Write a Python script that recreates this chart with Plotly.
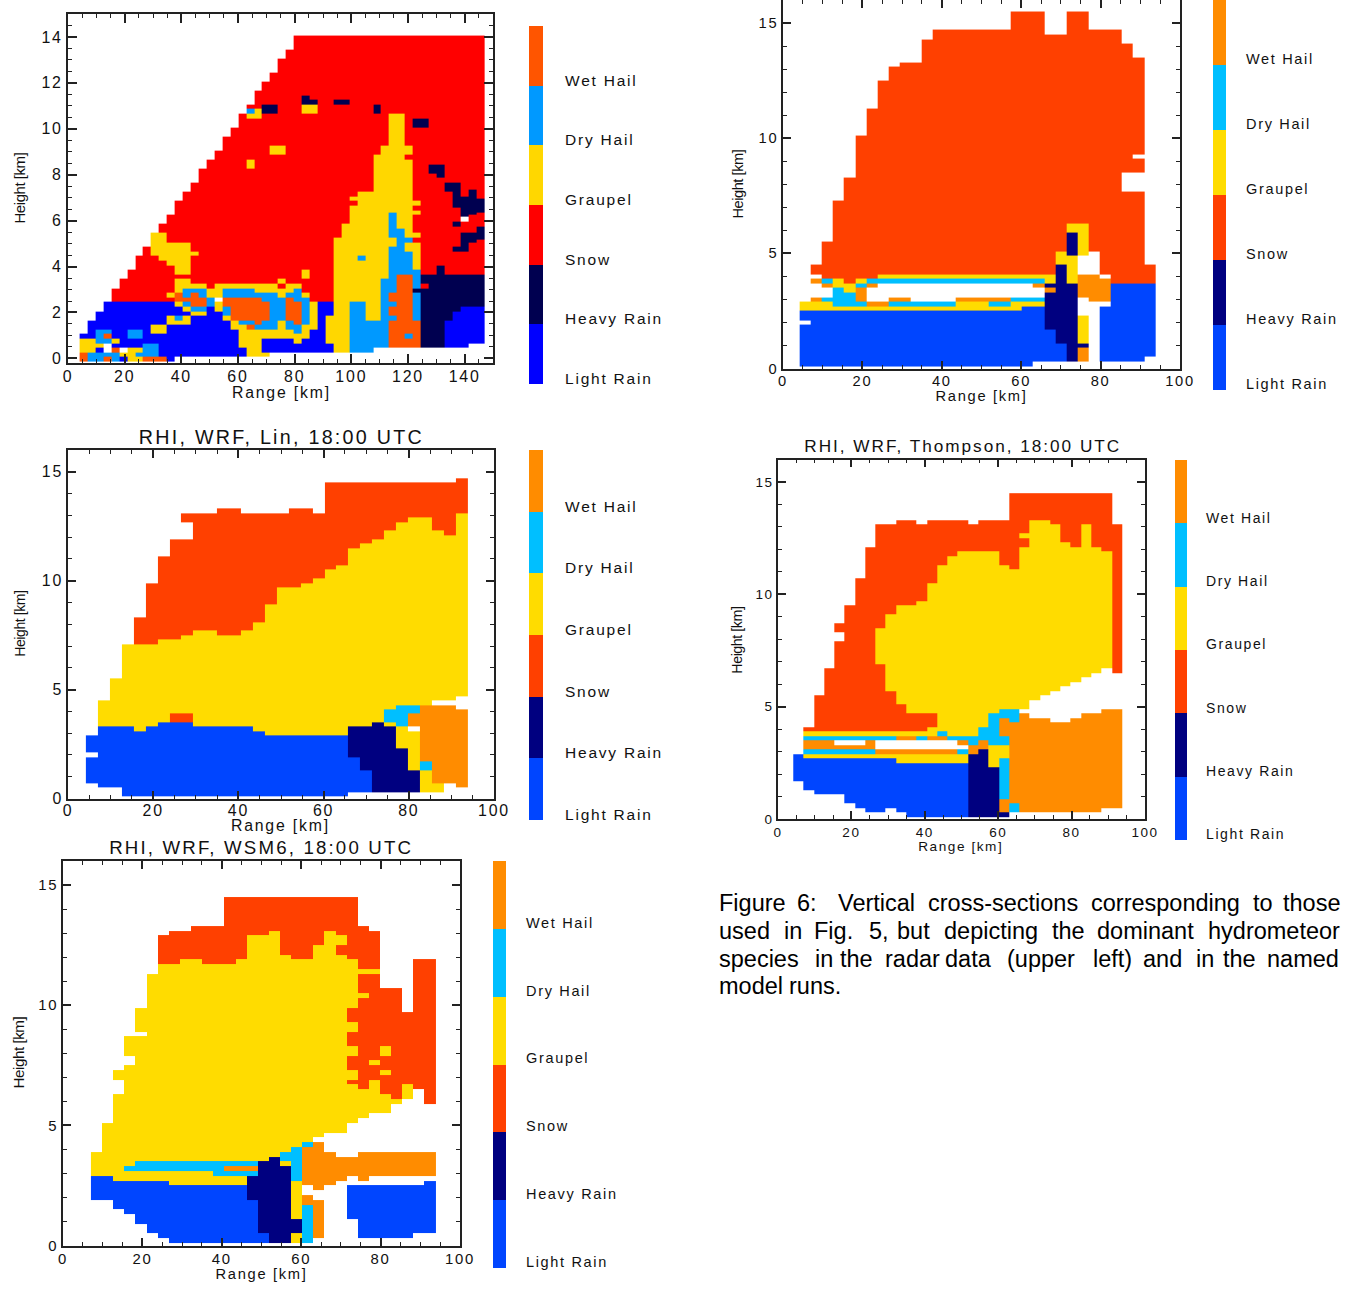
import numpy as np
import plotly.graph_objects as go

W, H = 1347, 1290

# Categories, bottom to top of each legend bar
CATEGORIES = ["Light Rain", "Heavy Rain", "Snow", "Graupel", "Dry Hail", "Wet Hail"]
CAT_CODES = "LHSGDW"
RADAR_COLORS = ["#0000FF", "#000050", "#FF0000", "#FFD700", "#0099FF", "#FF5500"]
MODEL_COLORS = ["#0045FF", "#000080", "#FF4000", "#FFDC00", "#00BFFF", "#FF8C00"]

# Each column: bottom height (km), then <species><top height km>; "_" means no data
RADAR_COLS = [
 "-.14 W.26 G.86 L1.06", "-.14 D.26 G.86 L1.66", "-.14 D.26 L.46 G.66 D1.26 L2.06",
 "-.14 W.06 D.26 _.66 D.86 W1.06 D1.26 L2.46", "-.14 D.26 W.46 L.66 G.86 L2.46 S3.06",
 "-.14 L.06 G.26 _.46 L2.46 S3.46", "-.14 G.46 L.86 D1.26 L2.46 S3.86",
 "-.14 G.06 D.26 G.46 L.86 D1.26 L2.46 S4.46", "-.14 W.06 D.66 L2.46 S4.86",
 "-.14 W.06 D.66 L1.06 G1.46 L2.46 S4.46 G5.46", "-.14 W.06 L1.06 G1.46 L2.46 S4.26 G5.46 S5.86",
 "-.14 L1.46 G1.86 L2.46 S2.66 G2.86 S4.06 G5.06 S6.26",
 ".06 L1.46 G1.66 D1.86 L2.26 G2.46 W2.86 G3.46 S3.66 G5.06 S6.86",
 ".06 L1.46 G1.86 L2.06 G2.26 D2.46 W2.66 D3.06 G3.46 S3.66 G5.06 S7.26",
 ".06 L1.86 G2.06 D2.26 W2.86 D3.06 G3.26 S4.46 G4.66 S7.66",
 ".06 L1.86 G2.06 D2.26 W2.66 D3.06 G3.26 S8.26", ".06 L2.26 D2.66 G3.06 S8.66",
 ".06 L2.06 G2.46 _2.66 G3.26 S9.06", ".06 L1.66 G1.86 D2.26 W2.66 D3.06 G3.26 S9.66",
 ".06 L1.26 G1.66 W2.66 D3.06 G3.26 S10.06", ".06 L.46 G1.46 D1.66 W2.66 D3.06 G3.26 S10.66",
 ".06 G1.26 W1.46 D1.66 W2.66 D3.06 G3.26 S8.26 G8.66 S10.46 G10.66 D10.86 S11.06",
 ".06 G1.26 D1.46 W2.66 D2.86 G3.26 S10.46 G10.86 S11.66",
 ".06 G.26 L.86 G1.26 D1.66 W2.46 D2.86 G3.26 S10.66 H11.06 S12.06",
 ".26 L.86 G1.26 D2.86 G3.26 S8.86 G9.26 S10.66 H11.06 S12.46",
 ".26 L.86 G1.66 D2.66 G3.06 S3.26 G3.46 S8.86 G9.26 S13.06",
 ".26 L.86 G1.26 D1.66 W2.66 D2.86 G3.26 S13.46", ".26 L.66 G1.06 D1.46 W2.46 D3.06 G3.26 S14.06",
 ".26 L.86 G1.46 D2.66 G2.86 S3.46 G3.86 S10.66 G11.06 H11.46 S14.06",
 ".26 L1.26 G2.46 S10.66 G11.06 H11.26 S14.06", ".26 L2.46 S14.06", ".26 L.66 G1.86 L2.46 S14.06",
 ".26 G5.26 S11.06 H11.26 S14.06", ".26 G5.86 S11.06 H11.26 S14.06",
 ".26 D2.46 G6.66 S6.86 G7.06 S14.06", ".26 D2.46 G4.26 D4.46 G7.26 S14.06", ".26 D1.66 G7.26 S14.06",
 ".46 D1.66 G8.86 S10.66 H11.06 S14.06", ".46 D3.46 G9.26 S14.06",
 ".46 W1.66 D1.86 W2.26 D2.46 W2.86 D4.86 G5.26 D6.36 G10.66 S14.06", ".46 W3.66 D5.66 G10.66 S14.06",
 ".46 W.86 D1.06 W3.66 D4.66 G5.06 D5.26 G8.66 S8.86 G9.26 S14.06",
 ".46 W1.66 D2.86 H3.06 D3.86 G5.06 S5.26 G5.46 S6.26 G6.46 S6.66 G6.86 S10.06 H10.46 S14.06",
 ".46 H3.06 S3.26 H3.66 S10.06 H10.46 S14.06", ".46 H3.66 S8.06 H8.46 S14.06",
 ".46 H4.06 S7.86 H8.46 S14.06", ".46 L1.66 H3.66 S7.26 H7.66 S14.06",
 ".46 L2.06 H3.66 S4.66 H4.86 S5.76 H5.96 S6.56 H7.66 S14.06",
 ".46 L2.26 H3.66 S4.66 H5.46 S5.96 _6.16 H7.06 S14.06",
 ".66 L2.26 H3.66 S5.06 H5.46 S6.26 H7.36 S14.06", ".66 L2.26 H3.66 S5.16 H5.76 S6.36 H6.96 S14.06",
]

UPPER_RIGHT_COLS = [
 ".1 L1.9 _2.1 L2.5 G2.9", ".1 L2.5 G2.9 W3.1 _3.7 W3.9 _4.1 S4.5", ".1 L2.5 G2.9 D3.1 _3.5 W3.7 D3.9 S5.5",
 ".1 L2.5 G2.7 D3.5 G3.9 S7.3", ".1 L2.5 G2.7 D3.3 G3.7 S8.3", ".1 L2.5 G2.7 D2.9 W3.5 D3.7 G3.9 S10.1",
 ".1 L2.5 G2.7 W2.9 _3.5 W3.7 D3.9 S11.3", ".1 L2.5 G2.7 W2.9 _3.7 D3.9 G4.1 S12.5",
 ".1 L2.5 G2.7 D2.9 W3.1 _3.7 D3.9 G4.1 S13.1", ".1 L2.5 G2.7 D2.9 W3.1 _3.7 D3.9 G4.1 S13.3",
 ".1 L2.5 G2.7 D2.9 _3.7 D3.9 G4.1 S13.3", ".1 L2.5 G2.7 D2.9 _3.7 D3.9 G4.1 S14.3",
 ".1 L2.5 G2.7 D2.9 _3.7 D3.9 G4.1 S14.7", ".1 L2.5 G2.7 D2.9 _3.7 D3.9 G4.1 S14.7",
 ".1 L2.5 G2.9 W3.1 _3.7 D3.9 G4.1 S14.7", ".1 L2.5 G2.9 W3.1 _3.7 D3.9 G4.1 S14.7",
 ".1 L2.5 G2.9 W3.1 _3.7 D3.9 G4.1 S14.7", ".1 L2.5 G2.7 D2.9 W3.1 _3.7 D3.9 G4.1 S14.7",
 ".1 L2.5 G2.7 D2.9 W3.1 _3.7 D3.9 G4.1 S14.7", ".1 L2.5 G2.9 D3.1 _3.7 D3.9 G4.1 S15.5",
 ".1 L2.7 G2.9 D3.1 _3.7 D3.9 G4.1 S15.5", ".3 L2.7 G2.9 D3.1 _3.5 W3.7 D3.9 G4.1 S15.5",
 ".3 L1.7 H3.3 W3.5 H3.7 G4.1 S14.5", ".3 L1.1 H4.5 G5.1 S14.5", ".3 H3.7 G4.9 H5.9 G6.3 S15.5",
 ".3 W.9 H1.1 G2.3 _3.1 W4.1 _4.9 G6.3 S15.5", "2.9 W4.1 _5.1 S14.7", ".3 L2.7 _2.9 W3.9 _4.1 S14.7",
 ".3 L3.7 S14.7", ".3 L3.7 S7.7 _8.5 S14.1", ".3 L3.7 S7.7 _8.5 S9.1 _9.3 S13.5", ".5 L3.7 S4.5",
]

LIN_COLS = [
 ".7 L1.9 _2.1 L2.9", ".5 L3.3 G4.5", ".5 L3.3 G5.5", ".1 L3.3 G7.1", ".1 L3.1 G7.1 S8.3", ".1 L3.3 G7.1 S9.9",
 ".1 L3.5 G7.3 S11.1", ".1 L3.5 S3.9 G7.3 S11.9", ".1 L3.5 S3.9 G7.5 S11.9 _12.7 S13.1",
 ".1 L3.3 G7.7 S13.1", ".1 L3.3 G7.7 S13.1", ".1 L3.3 G7.5 S13.3", ".1 L3.3 G7.5 S13.3", ".1 L3.3 G7.7 S13.1",
 ".1 L3.1 G8.1 S13.1", ".1 L2.9 G8.9 S13.1", ".1 L2.9 G9.7 S13.1", ".1 L2.9 G9.7 S13.3", ".1 L2.9 G9.9 S13.3",
 ".1 L2.9 G10.1 S13.1", ".1 L2.9 G10.5 S14.5", ".1 L2.9 G10.7 S14.5", ".3 L1.9 H3.3 G11.5 S14.5",
 ".3 L1.3 H3.3 G11.7 S14.5", ".3 H3.5 G11.9 S14.5", ".3 H3.3 G3.5 D4.1 G12.3 S14.5",
 ".3 H2.3 G3.3 D4.3 G12.7 S14.5", ".3 H1.3 G3.1 _3.3 W3.9 D4.3 G12.9 S14.5", ".3 G1.3 D1.7 W4.3 G12.9 S14.5",
 ".3 G.7 W4.3 _4.5 G12.3 S14.5", ".7 W4.3 _4.5 G12.1 S14.5", ".5 W4.1 _4.7 G13.1 S14.7",
]

THOMPSON_COLS = [
 "1.7 L2.9", "1.3 L2.7 G2.9 D3.1 W3.5 D3.7 G3.9 S4.1", "1.1 L2.7 G2.9 D3.1 W3.5 D3.7 G3.9 S5.5",
 "1.1 L2.7 G2.9 D3.1 W3.5 D3.7 G3.9 S6.7", "1.1 L2.7 G2.9 D3.1 W3.3 _3.5 D3.7 G3.9 S7.9 _8.3 S8.7",
 ".7 L2.7 G2.9 D3.1 W3.3 _3.5 D3.7 G3.9 S9.5", ".5 L2.7 G2.9 D3.1 W3.3 _3.5 D3.7 G3.9 S10.7",
 ".3 L2.7 G2.9 D3.1 W3.5 D3.7 G3.9 S12.1", ".3 L2.7 G2.9 W3.1 _3.5 D3.7 G3.9 S6.9 G8.5 S13.1",
 ".5 L2.7 G2.9 W3.1 _3.5 D3.7 G3.9 S5.7 G9.1 S13.1", ".3 L2.5 G2.9 W3.1 _3.5 W3.7 G3.9 S5.1 G9.5 S13.3",
 ".1 L2.5 G2.9 W3.1 _3.5 W3.7 G3.9 S4.7 G9.5 S13.3", ".1 L2.5 G2.9 W3.1 _3.5 D3.7 G3.9 S4.7 G9.7 S13.1",
 ".1 L2.5 G2.9 W3.1 _3.5 W3.7 G4.1 S4.7 G10.5 S13.3", ".1 L2.5 G2.9 W3.1 _3.5 W3.7 D3.9 G11.3 S13.3",
 ".1 L2.5 G2.9 W3.1 _3.5 D3.7 G11.7 S13.3", ".1 L2.5 G2.9 D3.1 _3.3 W3.5 D3.7 G11.9 S13.3",
 ".1 H2.9 W3.3 D3.7 G11.9 S13.1", ".1 H3.1 W3.5 D4.1 G11.9 S13.3", ".1 H2.3 G3.3 D4.7 G11.9 S13.3",
 ".1 H.3 W.9 D2.7 G3.3 D3.7 W4.5 D4.9 G11.3 S13.3", ".3 D.7 W4.3 D4.9 G11.1 S14.5",
 ".3 W4.7 _4.9 G12.1 S12.5 G12.7 S14.5", ".3 W4.5 _5.3 G13.3 S14.5", ".3 W4.5 _5.5 G13.3 S14.5",
 ".3 W4.3 _5.7 G13.1 S14.5", ".3 W4.3 _5.9 G12.3 S14.5", ".3 W4.5 _6.1 G12.1 S14.5", ".3 W4.7 _6.3 G13.1 S14.5",
 ".3 W4.7 _6.5 G12.1 S14.5", ".5 W4.9 _6.7 G11.9 S14.5", ".5 W4.9 _6.5 S13.1",
]

WSM6_COLS = [
 "1.9 L2.9 G3.9", "1.9 L2.9 G5.1", "1.5 L2.7 G6.3 _6.9 G7.3", "1.3 L2.7 G3.1 D3.3 G7.5 _7.9 G8.7",
 ".9 L2.7 G3.1 D3.5 G8.7 _8.9 G9.9", ".5 L2.7 G3.1 D3.5 G11.3", ".3 L2.7 G3.1 D3.5 G11.7 S12.9",
 ".1 L2.5 G3.1 D3.5 G11.7 S13.1", ".1 L2.5 G3.1 D3.5 G11.9 S13.1", ".1 L2.5 G3.1 D3.5 G11.9 S13.3",
 ".1 L2.5 G3.1 D3.5 G11.7 S13.3", ".1 L2.5 G2.9 D3.5 G11.7 S13.3", ".1 L2.5 G2.9 D3.1 W3.3 D3.5 G11.7 S14.5",
 ".1 L2.5 G2.9 D3.1 W3.3 D3.5 G11.9 S14.5", ".1 L1.9 H2.9 D3.1 W3.3 D3.5 G12.9 S14.5", ".1 L.5 H3.5 G12.9 S14.5",
 ".1 H3.7 G13.1 S14.5", ".1 H3.3 G3.5 D3.9 G12.1 S14.5", ".1 G.5 H1.1 G2.7 D4.1 G11.9 S14.5",
 ".1 D1.7 W2.1 _2.5 W4.1 D4.3 G11.9 S14.5", ".3 W1.9 _2.3 W4.3 _4.5 G12.5 S14.5", "2.5 W3.9 _4.7 G13.1 S14.5",
 "2.7 W3.7 _4.7 G12.1 S12.5 G12.9 S14.5",
 "1.1 L2.5 _2.9 W3.7 _5.1 G6.7 S6.9 G7.3 S7.9 G8.3 S8.9 G9.3 S9.9 G11.9 S14.5",
 ".3 L2.5 _2.7 W3.9 _5.3 G6.5 S10.3 G10.5 S11.3 G11.5 S13.3",
 ".3 L2.5 _2.9 W3.9 _5.5 G6.9 S7.5 G7.7 S11.3 G11.5 S13.1",
 ".3 L2.5 _2.9 W3.9 _5.5 G6.3 S7.1 G7.3 S7.9 G8.3 S10.7", ".3 L2.5 _2.9 W3.9 _5.9 G6.1 S10.7",
 ".3 L2.5 _2.9 W3.9 _6.1 G6.7 S9.7", ".5 L2.5 _2.9 W3.9 _6.5 S11.9", ".5 L2.7 _2.9 W3.9 _5.9 S11.9",
]

CAPTION = [
 [("Figure", 718), ("6:", 796), ("Vertical", 837), ("cross-sections", 927), ("corresponding", 1090), ("to", 1252), ("those", 1282)],
 [("used", 718), ("in", 783), ("Fig.", 813), ("5,", 868), ("but", 896), ("depicting", 943), ("the", 1051), ("dominant", 1096), ("hydrometeor", 1207)],
 [("species", 718), ("in", 814), ("the", 839), ("radar", 884), ("data", 944), ("(upper", 1006), ("left)", 1092), ("and", 1142), ("in", 1195), ("the", 1222), ("named", 1266)],
 [("model", 718), ("runs.", 788)],
]
CAPTION_Y = [903, 931, 959, 986]

# Panel geometry in window pixels
PANELS = [
 dict(cols=RADAR_COLS, x0=4.1, colors=RADAR_COLORS, title=None, px=(68, 493), py=(14, 363), xr=(0, 150), yr=(-0.2, 15),
      xd=20, xm=5, yd=2, ym=0.5, bar=(529, 543, 26, 384), lab=21, fs=15.9, ls=15.5, ts=15.8, hs=15, major=9, lw=2.2, rx=281, ry=392, hx=20, hy=188, xoff=-2),
 dict(cols=UPPER_RIGHT_COLS, x0=4.2, colors=MODEL_COLORS, title=None, px=(783, 1180), py=(0, 368.5), xr=(0, 100), yr=(0, 16),
      xd=20, xm=5, yd=5, ym=1, bar=(1213, 1226, 0, 390), lab=19, fs=14.7, ls=14.5, ts=14.7, hs=14.6, major=8, lw=1.5, rx=981, ry=396, hx=738, hy=184, xoff=-2),
 dict(cols=LIN_COLS, x0=4.2, colors=MODEL_COLORS, title="RHI, WRF, Lin, 18:00 UTC", px=(68, 494), py=(450, 798.5), xr=(0, 100), yr=(0, 16),
      xd=20, xm=5, yd=5, ym=1, bar=(529, 543, 450, 820), lab=21, fs=15.9, ls=15.5, ts=15.8, hs=14, major=8, lw=1.5, rx=280, ry=825, hx=20, hy=624, tx=281, ty=437, tf=19.7, xoff=-3),
 dict(cols=THOMPSON_COLS, x0=4.16, colors=MODEL_COLORS, title="RHI, WRF, Thompson, 18:00 UTC", px=(778, 1145), py=(459.5, 819), xr=(0, 100), yr=(0, 16),
      xd=20, xm=5, yd=5, ym=1, bar=(1175, 1187, 460, 840), lab=18, fs=13.5, ls=14, ts=13.6, hs=14.2, major=8, lw=1.5, rx=961, ry=846, hx=737, hy=640, tx=962, ty=446, tf=17.2, xoff=0),
 dict(cols=WSM6_COLS, x0=7.04, colors=MODEL_COLORS, title="RHI, WRF, WSM6, 18:00 UTC", px=(63, 460), py=(861, 1245.5), xr=(0, 100), yr=(0, 16),
      xd=20, xm=5, yd=5, ym=1, bar=(493, 506, 861, 1268), lab=19, fs=14.9, ls=14.5, ts=14.7, hs=15.2, major=8, lw=1.5, rx=261, ry=1274, hx=18, hy=1053, tx=261, ty=847, tf=18.7, xoff=-1),
]
CELL_KM = 2.8
INK = "#222222"
TEXT = "#111111"
FONT = "Liberation Sans, Arial, sans-serif"


def parse(cols):
    parsed = []
    for col in cols:
        toks = col.split()
        h = float(toks[0])
        segs = []
        for t in toks[1:]:
            top = float(t[1:])
            if t[0] != "_":
                segs.append((h, top, CAT_CODES.index(t[0])))
            h = top
        parsed.append(segs)
    return parsed


def grid(cols):
    parsed = parse(cols)
    edges = sorted({v for segs in parsed for s in segs for v in s[:2]})
    centers = [(a + b) / 2 for a, b in zip(edges[:-1], edges[1:])]
    z = np.full((len(centers), len(parsed)), np.nan)
    for j, segs in enumerate(parsed):
        for lo, hi, c in segs:
            for i, m in enumerate(centers):
                if lo < m < hi:
                    z[i, j] = c
    return edges, z


def scale(colors):
    out = []
    for i, c in enumerate(colors):
        out += [[i / 6, c], [(i + 1) / 6, c]]
    return out


def xdom(a, b):
    return [a / W, b / W]


def ydom(top, bottom):
    return [1 - bottom / H, 1 - top / H]


def label(text, x, y, size, angle=0, anchor="center", color=TEXT):
    return dict(text=text, x=x / W, y=1 - y / H, xref="paper", yref="paper", showarrow=False, xanchor=anchor, yanchor="middle",
                textangle=angle, borderpad=0, font=dict(family=FONT, size=size, color=color))


fig = go.Figure()
layout = {}
annotations = []

for n, p in enumerate(PANELS):
    ax, bx = 2 * n + 1, 2 * n + 2
    edges, z = grid(p["cols"])
    xedges = [p["x0"] + CELL_KM * i for i in range(len(p["cols"]) + 1)]
    fig.add_trace(go.Heatmap(x=xedges, y=edges, z=z, zmin=0, zmax=6, colorscale=scale(p["colors"]),
                             showscale=False, hoverongaps=False, xaxis=f"x{ax}", yaxis=f"y{ax}"))
    common = dict(showgrid=False, zeroline=False, showline=True, linecolor=INK, linewidth=p["lw"], mirror="ticks", automargin=False,
                  ticks="inside", ticklen=p["major"], tickwidth=1.5, tickcolor=INK,
                  tickfont=dict(family=FONT, size=p["fs"], color=TEXT))
    layout[f"xaxis{ax}"] = dict(common, domain=xdom(*p["px"]), range=p["xr"], anchor=f"y{ax}", dtick=p["xd"], tick0=0,
                                ticklabelstandoff=p["xoff"],
                                minor=dict(ticks="inside", ticklen=4, dtick=p["xm"], tick0=0, tickcolor=INK, tickwidth=1.2, showgrid=False))
    layout[f"yaxis{ax}"] = dict(common, domain=ydom(*p["py"]), range=p["yr"], anchor=f"x{ax}", dtick=p["yd"], tick0=0, tickangle=0,
                                minor=dict(ticks="inside", ticklen=4, dtick=p["ym"], tick0=0, tickcolor=INK, tickwidth=1.2, showgrid=False))
    annotations.append(label("Range [km]", p["rx"], p["ry"], p["ts"]))
    annotations.append(label("Height [km]", p["hx"], p["hy"], p["hs"], angle=-90))
    # Legend bar
    b = p["bar"]
    fig.add_trace(go.Heatmap(x=[0, 1], y=list(range(7)), z=[[i] for i in range(6)], zmin=0, zmax=6,
                             colorscale=scale(p["colors"]), showscale=False, xaxis=f"x{bx}", yaxis=f"y{bx}"))
    layout[f"xaxis{bx}"] = dict(domain=xdom(b[0], b[1]), range=[0, 1], visible=False, anchor=f"y{bx}", automargin=False)
    layout[f"yaxis{bx}"] = dict(domain=ydom(b[2], b[3]), range=[0, 6], anchor=f"x{bx}", side="right", showgrid=False, zeroline=False, automargin=False,
                                showline=False, ticks="", tickmode="array", tickvals=[i + 0.09 for i in range(6)], ticktext=CATEGORIES,
                                ticklabelstandoff=p["lab"], tickfont=dict(family=FONT, size=p["ls"], color=TEXT))
    if p["title"]:
        annotations.append(label(p["title"], p["tx"], p["ty"], p["tf"]))

for line, y in zip(CAPTION, CAPTION_Y):
    for word, x in line:
        annotations.append(label(word, x, y, 23.5, anchor="left", color="#000000"))

fig.update_layout(width=W, height=H, margin=dict(l=0, r=0, t=0, b=0, autoexpand=False), paper_bgcolor="white", plot_bgcolor="white",
                  showlegend=False, annotations=annotations, **layout)

POST = """
document.body.style.margin='0';document.body.style.overflow='hidden';
function stretchText(){
  document.querySelectorAll('.xaxislayer-above text,.yaxislayer-above text').forEach(function(t){t.style.letterSpacing='0.115em';});
  document.querySelectorAll('.annotation-text').forEach(function(t){
    var s=t.textContent;
    if(s.indexOf('RHI')===0||s.indexOf('Range')===0){t.style.letterSpacing='0.115em';}
    if(s.indexOf('Height')===0){t.style.letterSpacing='-0.03em';}
  });
}
stretchText();setTimeout(stretchText,300);
"""
fig.write_html("out.html", post_script=POST, config={"displayModeBar": False})
